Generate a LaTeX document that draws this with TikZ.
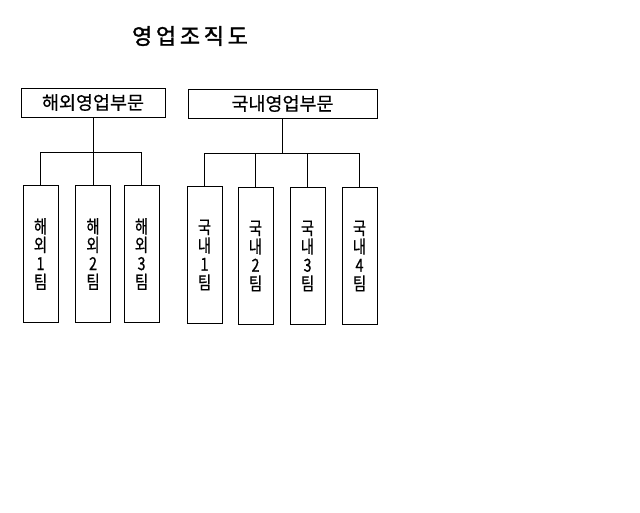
\documentclass[tikz,border=0pt]{standalone}
\usepackage{fontspec}
\newfontfamily\kr[FakeBold=0.6]{Noto Sans CJK KR}
\newfontfamily\krnarrow[FakeStretch=0.8, FakeBold=0.6]{Noto Sans CJK KR}
\newfontfamily\krtitle[FakeBold=1.6]{Noto Sans CJK KR}
\tikzset{
	division/.style={draw, line width=1pt, inner sep=0pt, font=\kr\fontsize{18.5}{20}\selectfont},
	team/.style={draw, line width=1pt, anchor=north, minimum width=35pt, minimum height=137pt,
		inner sep=0pt, align=center, font=\krnarrow\fontsize{18}{18.5}\selectfont},
	link/.style={line width=1pt}
}
\begin{document}
\begin{tikzpicture}[x=1pt, y=-1pt]
	\useasboundingbox (0,0) rectangle (640,512);

	\def\teamBox#1#2#3#4#5{
		\node[team] (#1) at (#2,#3) {#4\\#5\\팀};
	}

	% title
	\node[font=\krtitle\fontsize{22}{24}\selectfont] (title) at (190,36) {영\,업\,조\,직\,도};

	% divisions
	\node[division, minimum width=144pt, minimum height=29pt] (ovs) at (93,102.5) {해외영업부문};
	\node[division, minimum width=189pt, minimum height=29pt] (dom) at (282.5,103.5) {국내영업부문};
	\coordinate (ovsbr) at (93,152);
	\coordinate (dombr) at (282.5,153);
	\draw[link] (ovs.south) -- (ovsbr);
	\draw[link] (dom.south) -- (dombr);

	% teams
	\teamBox{ovsA}{40.5}{185}{해}{외\\1};
	\teamBox{ovsB}{93}{185}{해}{외\\2};
	\teamBox{ovsC}{141.5}{185}{해}{외\\3};
	\teamBox{domA}{204.5}{186}{국}{내\\1};
	\teamBox{domB}{255.5}{187}{국}{내\\2};
	\teamBox{domC}{307.5}{187}{국}{내\\3};
	\teamBox{domD}{359.5}{187}{국}{내\\4};

	\foreach \t in {ovsA, ovsB, ovsC}
		\draw[link] (\t.north) |- (ovsbr);
	\foreach \t in {domA, domB, domC, domD}
		\draw[link] (\t.north) |- (dombr);

\end{tikzpicture}
\end{document}
